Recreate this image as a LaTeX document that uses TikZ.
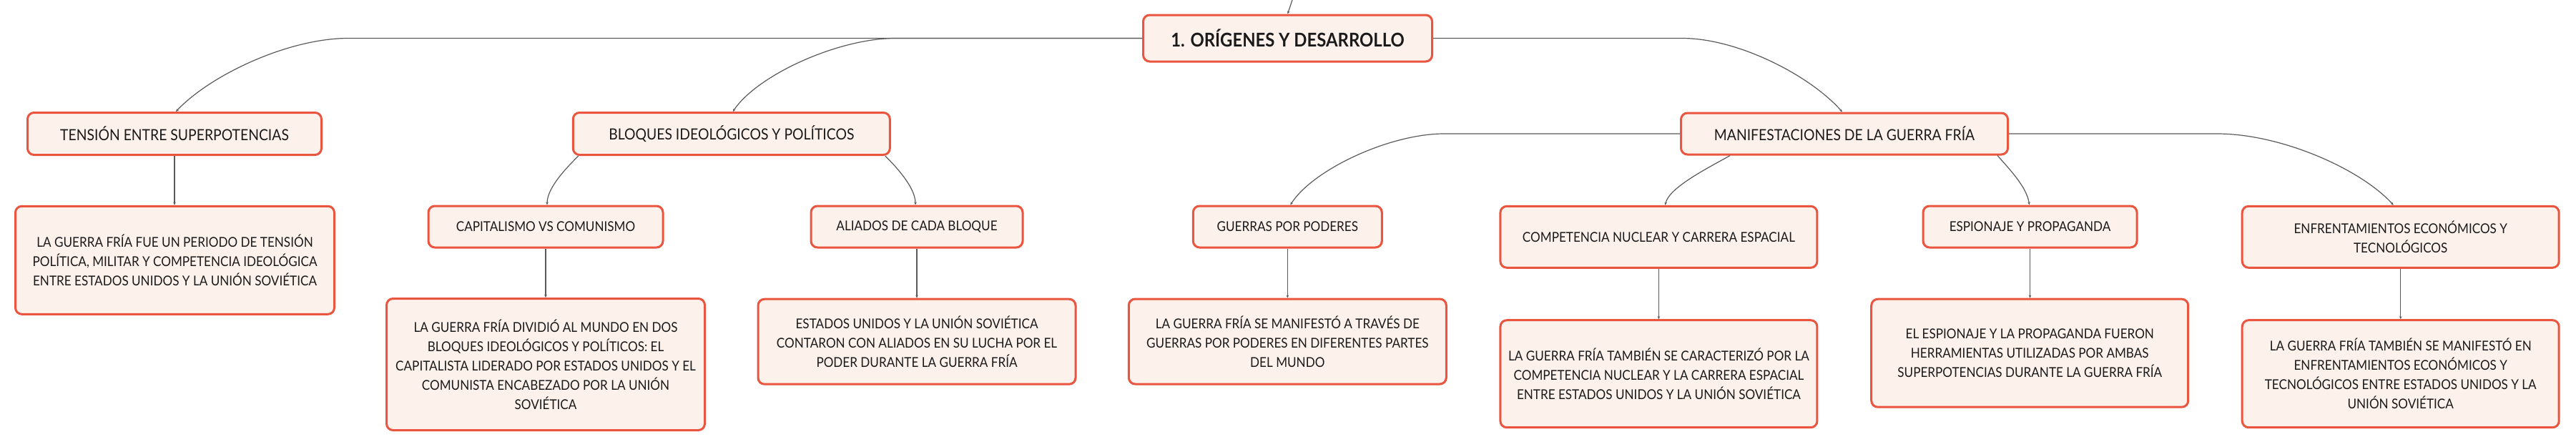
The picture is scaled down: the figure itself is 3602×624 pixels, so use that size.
\documentclass[tikz,border=0pt]{standalone}
\usepackage{fontspec}
\setmainfont{Lato}[FakeStretch=0.9]
\usetikzlibrary{arrows.meta,calc}
\definecolor{boxred}{HTML}{E9553F}
\definecolor{boxfill}{HTML}{FDF1EC}
\definecolor{linegray}{HTML}{5A5A5A}
\definecolor{txt}{HTML}{1A1A1A}
\begin{document}
\begin{tikzpicture}[x=1pt,y=-1pt,
  tbox/.style={draw=boxred, line width=3pt, fill=boxfill, rounded corners=9pt,
    align=center, inner sep=0pt, text=txt, font=\fontsize{19}{27}\selectfont},
  lvone/.style={tbox, font=\fontsize{21.5}{28}\selectfont},
  conn/.style={draw=linegray, line width=1.2pt, -{Stealth[length=4pt,width=3.5pt]}}]
\useasboundingbox (0,0) rectangle (3602,624);
\fill[white] (0,0) rectangle (3602,624);

% root
\node[tbox, minimum width=404pt, minimum height=65pt, font=\fontsize{26.5}{30}\selectfont\bfseries] (root) at (1800.5,53.5) {1. ORÍGENES Y DESARROLLO};
\coordinate (rin) at (1807,0);

% level 1
\node[lvone, minimum width=411pt, minimum height=59pt] (tension) at (244,187) {TENSIÓN ENTRE SUPERPOTENCIAS};
\node[lvone, minimum width=443pt, minimum height=59pt] (bloques) at (1022.8,187) {BLOQUES IDEOLÓGICOS Y POLÍTICOS};
\node[lvone, minimum width=457pt, minimum height=58pt] (manif) at (2579,187) {MANIFESTACIONES DE LA GUERRA FRÍA};

% tension detail
\node[tbox, minimum width=446pt, minimum height=151pt] (td) at (244.5,363.8) {LA GUERRA FRÍA FUE UN PERIODO DE TENSIÓN\\POLÍTICA, MILITAR Y COMPETENCIA IDEOLÓGICA\\ENTRE ESTADOS UNIDOS Y LA UNIÓN SOVIÉTICA};

% bloques children
\node[tbox, minimum width=328pt, minimum height=58pt] (capit) at (763,317) {CAPITALISMO VS COMUNISMO};
\node[tbox, minimum width=445pt, minimum height=184pt] (capitd) at (763,509.5) {LA GUERRA FRÍA DIVIDIÓ AL MUNDO EN DOS\\BLOQUES IDEOLÓGICOS Y POLÍTICOS: EL\\CAPITALISTA LIDERADO POR ESTADOS UNIDOS Y EL\\COMUNISTA ENCABEZADO POR LA UNIÓN\\SOVIÉTICA};
\node[tbox, minimum width=296pt, minimum height=58pt] (aliados) at (1282,317) {ALIADOS DE CADA BLOQUE};
\node[tbox, minimum width=444pt, minimum height=119pt] (aliadosd) at (1282,477.7) {ESTADOS UNIDOS Y LA UNIÓN SOVIÉTICA\\CONTARON CON ALIADOS EN SU LUCHA POR EL\\PODER DURANTE LA GUERRA FRÍA};

% manif children
\node[tbox, minimum width=264pt, minimum height=58pt] (guerras) at (1800.3,317) {GUERRAS POR PODERES};
\node[tbox, minimum width=444pt, minimum height=119pt] (guerrasd) at (1800.3,477.5) {LA GUERRA FRÍA SE MANIFESTÓ A TRAVÉS DE\\GUERRAS POR PODERES EN DIFERENTES PARTES\\DEL MUNDO};
\node[tbox, minimum width=443pt, minimum height=86pt] (comp) at (2319.4,331.3) {COMPETENCIA NUCLEAR Y CARRERA ESPACIAL};
\node[tbox, minimum width=443pt, minimum height=150pt] (compd) at (2319.4,522.7) {LA GUERRA FRÍA TAMBIÉN SE CARACTERIZÓ POR LA\\COMPETENCIA NUCLEAR Y LA CARRERA ESPACIAL\\ENTRE ESTADOS UNIDOS Y LA UNIÓN SOVIÉTICA};
\node[tbox, minimum width=299pt, minimum height=58pt] (esp) at (2838.5,317) {ESPIONAJE Y PROPAGANDA};
\node[tbox, minimum width=443pt, minimum height=151pt] (espd) at (2838.2,493.7) {EL ESPIONAJE Y LA PROPAGANDA FUERON\\HERRAMIENTAS UTILIZADAS POR AMBAS\\SUPERPOTENCIAS DURANTE LA GUERRA FRÍA};
\node[tbox, minimum width=443pt, minimum height=86pt] (enf) at (3356.7,331.3) {ENFRENTAMIENTOS ECONÓMICOS Y\\TECNOLÓGICOS};
\node[tbox, minimum width=443pt, minimum height=150pt] (enfd) at (3356.7,522.7) {LA GUERRA FRÍA TAMBIÉN SE MANIFESTÓ EN\\ENFRENTAMIENTOS ECONÓMICOS Y\\TECNOLÓGICOS ENTRE ESTADOS UNIDOS Y LA\\UNIÓN SOVIÉTICA};

% connectors
\draw[conn] (rin) -- (root.north);
\draw[conn] (root.west) -- ++(-1110,0) .. controls +(-84,0) and +(48,-51) .. ($(tension.north)+(2,0)$);
\draw[conn] (root.west) -- ++(-345,0) .. controls +(-80,0) and +(34,-51) .. ($(bloques.north)+(2,0)$);
\draw[conn] (root.east) -- ++(348,0) .. controls +(78,0) and +(-45,-51) .. ($(manif.north)+(-3,0)$);

\draw[conn] (manif.west) -- ++(-330,0) .. controls +(-75,0) and +(32,-50) .. ($(guerras.north)+(4,0)$);
\draw[conn] (manif.east) -- ++(291,0) .. controls +(90,0) and +(-45,-50) .. ($(enf.north)+(-10,0)$);
\draw[conn] ($(manif.south)+(-160,0)$) .. controls +(-28,16) and +(5,-25) .. ($(comp.north)+(9,0)$);
\draw[conn] ($(manif.south)+(214,0)$) .. controls +(14,16) and +(-3,-25) .. ($(esp.north)+(-1,0)$);

\draw[conn] ($(bloques.south)+(-214,0)$) .. controls +(-14,14) and +(0,-25) .. ($(capit.north)+(2,0)$);
\draw[conn] ($(bloques.south)+(215,0)$) .. controls +(14,14) and +(0,-25) .. ($(aliados.north)+(-2,0)$);

\draw[conn] (tension.south) -- (tension.south |- td.north);
\draw[conn] (capit.south) -- (capit.south |- capitd.north);
\draw[conn] (aliados.south) -- (aliados.south |- aliadosd.north);
\draw[conn] (guerras.south) -- (guerras.south |- guerrasd.north);
\draw[conn] (comp.south) -- (comp.south |- compd.north);
\draw[conn] (esp.south) -- (esp.south |- espd.north);
\draw[conn] (enf.south) -- (enf.south |- enfd.north);
\end{tikzpicture}
\end{document}
